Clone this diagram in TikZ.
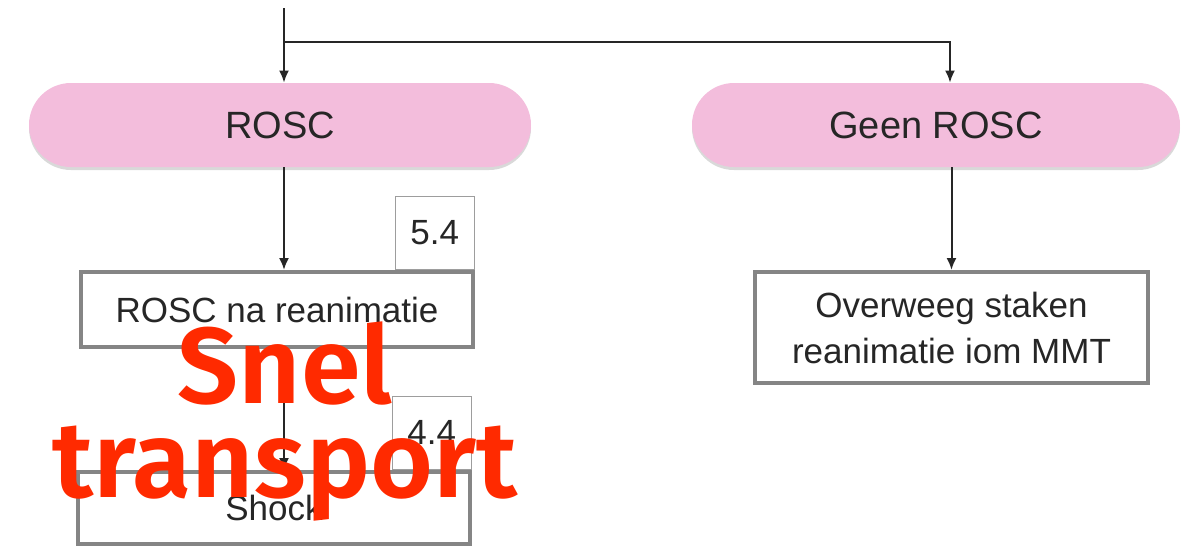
\documentclass[tikz,border=0pt]{standalone}
\usepackage{fontspec}
\setmainfont{Liberation Sans}
\newfontfamily\snelfont{Fira Sans SemiBold}
\usetikzlibrary{shadows, arrows.meta}
\definecolor{roscpink}{HTML}{F3BDDC}
\definecolor{boxgray}{HTML}{858585}
\definecolor{txtgray}{HTML}{262626}
\definecolor{snelred}{HTML}{FF2A00}
\tikzset{every node/.style={align=center, text=txtgray}, >={Latex[length=6pt, width=5pt]},
  pill/.style={rectangle, rounded corners=21pt, fill=roscpink, minimum height=42pt,
    drop shadow={opacity=0.3, shadow xshift=0pt, shadow yshift=-1.5pt},
    font=\fontsize{19}{22}\selectfont},
  stepbox/.style={rectangle, draw=boxgray, line width=2pt, fill=white,
    font=\fontsize{17.5}{23}\selectfont},
  numbox/.style={rectangle, draw=boxgray!80, line width=0.7pt, fill=white,
    minimum width=39.5pt, minimum height=36.5pt, anchor=south east,
    font=\fontsize{17.5}{21}\selectfont},
  flow/.style={->, line width=1pt, black!85}}

\begin{document}
\begin{tikzpicture}[x=0.5pt, y=-0.5pt]
  \useasboundingbox (0,0) rectangle (1184,546);
  \node [pill, minimum width=251pt] (rosc) at (280,125) {ROSC};
  \node [pill, minimum width=244pt] (geen) at (936,125) {Geen ROSC};
  \node [stepbox, minimum width=196pt, minimum height=37.5pt] (nareani) at (277,309.5) {ROSC na reanimatie};
  \node [numbox] (n54) at (nareani.north east) {5.4};
  \node [stepbox, minimum width=196pt, minimum height=36pt] (shock) at (274,508) {Shock};
  \node [numbox] (n44) at (shock.north east) {4.4};
  \node [stepbox, minimum width=196.5pt, minimum height=55.5pt] (mmt) at (951.5,327.5) {Overweeg staken\\reanimatie iom MMT};
  \coordinate (top) at (284,8);
  \coordinate (split) at (284,42);
  \draw [flow] (top) -- (rosc.north -| split);
  \draw [flow] (split) -| ([xshift=7pt]geen.north);
  \draw [flow] (rosc.south -| split) -- (nareani.north -| split);
  \draw [flow] (nareani.south -| split) -- (shock.north -| split);
  \draw [flow] (mmt.north |- geen.south) -- (mmt.north);
  % overlay
  \node [text=snelred, font=\snelfont\fontsize{54}{47}\selectfont] (snel) at (285,421) {Snel\\transport};
\end{tikzpicture}
\end{document}
